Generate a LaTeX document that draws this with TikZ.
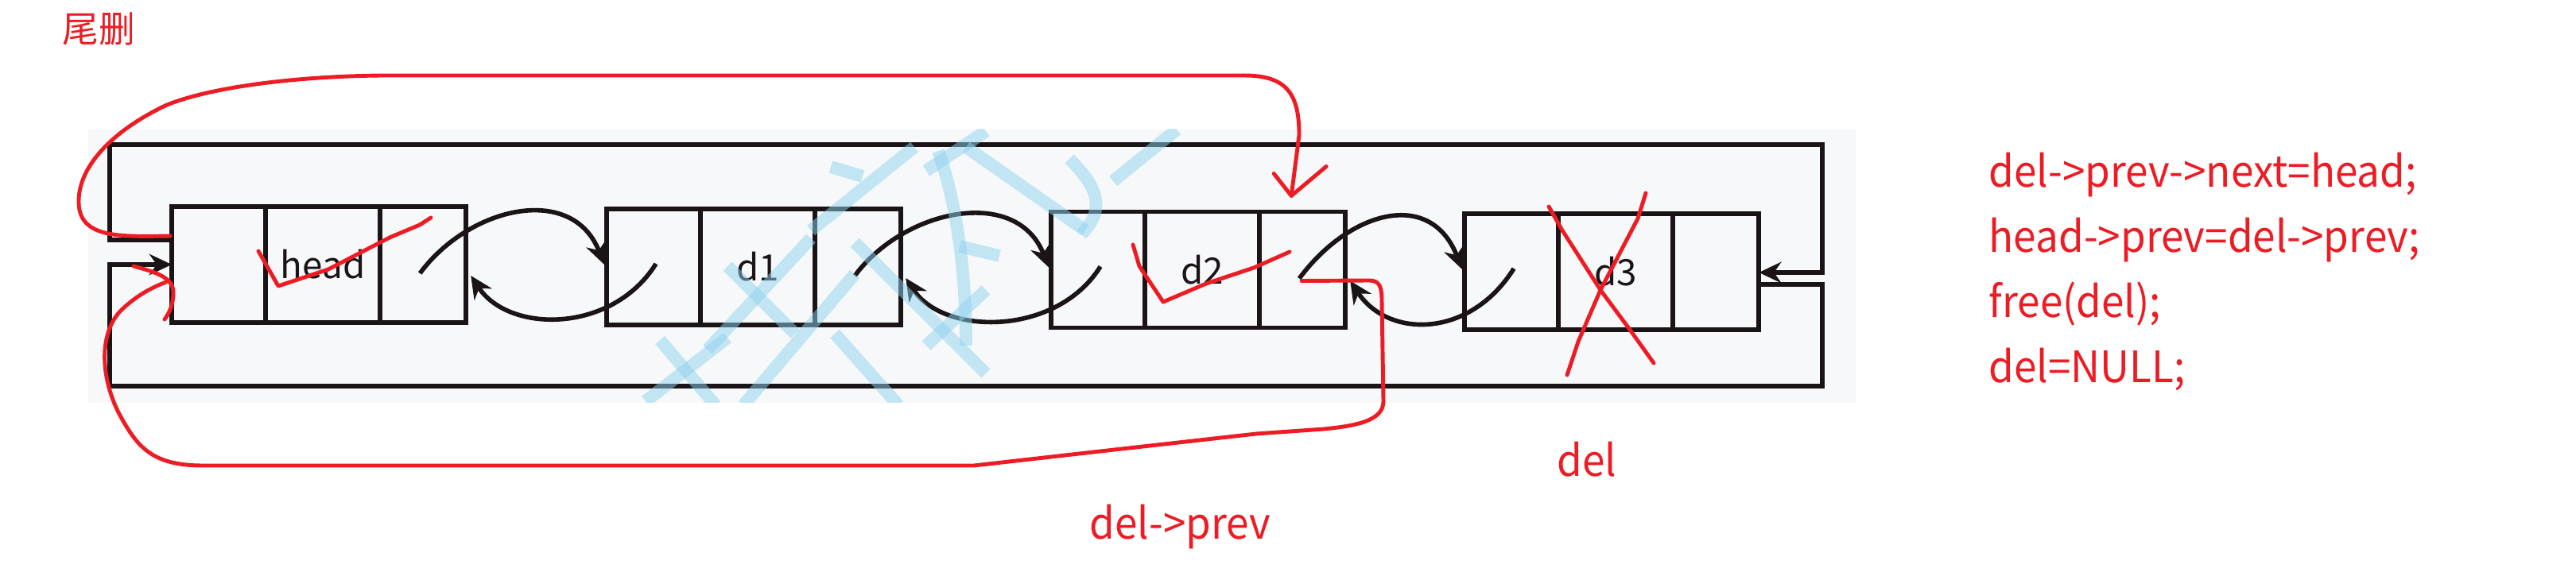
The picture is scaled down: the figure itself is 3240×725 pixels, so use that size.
\documentclass[tikz,border=0pt]{standalone}
\usepackage{fontspec}
\setmainfont{Noto Sans CJK SC}
\newfontfamily\notefont[FakeStretch=0.94]{Noto Sans CJK SC}
\usetikzlibrary{arrows.meta,calc}

\definecolor{penred}{HTML}{ED1C24}
\definecolor{inkblack}{HTML}{1A1416}
\definecolor{paper}{HTML}{F7F8FA}
\definecolor{wmblue}{HTML}{8FD3F0}

\tikzset{
  cell/.style={draw=inkblack, line width=1.6pt, minimum height=1.46cm, inner sep=0pt, outer sep=0pt,
    anchor=west, text=inkblack, font=\fontsize{13}{15}\selectfont},
  prevcell/.style={cell, minimum width=1.18cm},
  datacell/.style={cell, minimum width=1.44cm},
  nextcell/.style={cell, minimum width=1.08cm},
  link/.style={draw=inkblack, line width=1.6pt, -{Stealth[length=8pt,width=7.5pt]}},
  pen/.style={draw=penred, line width=1.4pt, line cap=round, line join=round},
  note/.style={text=penred, inner sep=0pt, font=\notefont\fontsize{15.5}{18}\selectfont},
  wmark/.style={draw=wmblue, line width=4.5pt, opacity=0.5}
}

\begin{document}
\begin{tikzpicture}[x=0.01cm, y=-0.01cm]
\useasboundingbox (0,0) rectangle (3240,725);

% fondo gris de la captura
\fill[paper] (111,163) rectangle (2334,507);

% nodos de la lista: prev | dato | next
\foreach \name/\x/\y in {head/216/333, d1/763/336, d2/1322/339.5, d3/1842/342} {
  \node[prevcell] (\name P) at (\x,\y) {};
  \node[datacell] (\name D) at (\name P.east) {\name};
  \node[nextcell] (\name N) at (\name D.east) {};
}

% enlaces next / prev entre vecinos
\foreach \a/\b in {head/d1, d1/d2, d2/d3} {
  \draw[link] ($(\a N.center)+(-4,11)$) .. controls +(62,-84) and +(-40,-103) .. ($(\b P.west)+(-3,-3)$);
  \draw[link] ($(\b P.center)+(3,-4)$) .. controls +(-55,88) and +(48,73) .. ($(\a N.east)+(6,14)$);
}

% marco circular: head <-> d3
\coordinate (frameTL) at (138,182);
\coordinate (frameBR) at (2292,486);
\draw[link] ($(headP.west)+(0,-31)$) -| (frameTL) -- (frameTL -| frameBR) |- ($(d3N.east)+(0,1)$);
\draw[link] ($(d3N.east)+(0,16)$) -| (frameBR) -- (frameBR -| frameTL) |- (headP.west);

% marca de agua
\begin{scope}
\clip (111,163) rectangle (2334,507);
\draw[wmark] (830,428) -- (900,510);
\draw[wmark] (812,505) -- (915,425);
\draw[wmark] (890,440) -- (1020,300);
\draw[wmark] (915,335) -- (1000,420);
\draw[wmark] (935,510) -- (1075,345);
\draw[wmark] (1050,420) -- (1130,510);
\draw[wmark] (1020,290) -- (1150,185);
\draw[wmark] (1045,210) -- (1085,222);
\draw[wmark] (1075,305) -- (1240,470);
\draw[wmark] (1165,215) -- (1240,165);
\draw[wmark] (1180,190) .. controls (1205,260) and (1215,350) .. (1215,435);
\draw[wmark] (1215,185) -- (1365,290);
\draw[wmark] (1400,228) -- (1480,163);
\draw[wmark] (1345,200) .. controls (1375,230) and (1395,260) .. (1360,295);
\draw[wmark] (1207,310) -- (1257,322);
\draw[wmark] (1165,435) -- (1240,365);
\end{scope}

% anotaciones a mano
\node[note, font=\fontsize{13}{15}\selectfont] (title) at (124,37) {尾删};

\coordinate (tipA) at ($(d2N.north)+(-14,-20)$);
\draw[pen] ($(headP.west)+(-2,-36)$) .. controls (150,298) and (100,300) .. (99,255)
  .. controls (98,205) and (150,160) .. (210,132) .. controls (270,108) and (380,96) .. (480,95)
  -- (1565,95) .. controls (1620,95) and (1634,120) .. (1634,170) -- (tipA);
\draw[pen] ($(tipA)+(-22,-28)$) -- (tipA) -- ($(tipA)+(44,-37)$);

\draw[pen] ($(d2N.center)+(-1,14)$) -- (1722,353) .. controls (1736,353) and (1738,362) .. (1738,380)
  -- (1740,505) .. controls (1740,530) and (1705,536) .. (1665,540) -- (1580,546) -- (1375,569)
  -- (1225,586) -- (255,586) .. controls (195,586) and (175,565) .. (155,530)
  .. controls (128,485) and (122,425) .. (150,393) .. controls (170,372) and (195,360) .. (209,355);
\draw[pen] (168,335) .. controls (198,343) and (218,350) .. (218,368) .. controls (218,385) and (212,395) .. (207,402);

\draw[pen] (325,316) -- (350,360) -- (413,339) -- (490,299) -- (528,283) -- (542,274);
\draw[pen] (1425,308) -- (1433,335) -- (1463,380) -- (1517,357) -- (1577,337) -- (1622,317);
\draw[pen] (1948,260) -- (1965,290) -- (2013,365) -- (2050,415) -- (2080,457);
\draw[pen] (2070,243) -- (2060,275) -- (2013,365) -- (1985,430) -- (1971,472);

\node[note, anchor=base west] (prevlabel) at (1370,679) {del->prev};
\node[note, anchor=base west] (dellabel) at (1958,600) {del};

% codigo
\foreach \txt [count=\i] in {{del->prev->next=head;}, {head->prev=del->prev;}, {free(del);}, {del=NULL;}} {
  \node[note, anchor=base west] (code\i) at (2501,154+82*\i) {\txt};
}
\end{tikzpicture}
\end{document}
